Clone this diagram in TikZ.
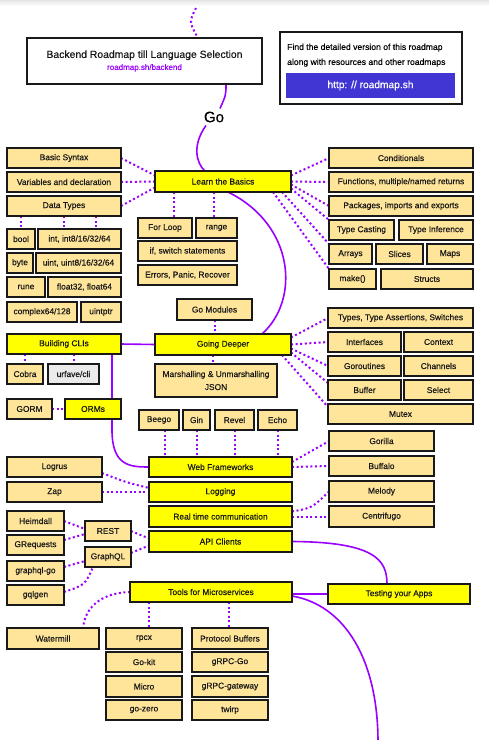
\documentclass[tikz,border=0pt]{standalone}
\usepackage{fontspec}
\setmainfont{Liberation Sans}[FakeBold=0.4]
\usetikzlibrary{backgrounds,shadows,calc}
\definecolor{tanc}{HTML}{FFE599}
\definecolor{yelc}{HTML}{FFFF00}
\definecolor{vio}{HTML}{9900FF}
\definecolor{btnc}{HTML}{4136D4}
\definecolor{urf}{HTML}{EBEBEB}
\newcommand{\bx}[7]{%
  \pgfmathsetmacro{\bxX}{(#3+#5)/2}%
  \pgfmathsetmacro{\bxY}{(#4+#6)/2}%
  \pgfmathsetmacro{\bxW}{#5-#3}%
  \pgfmathsetmacro{\bxH}{#6-#4}%
  \node[#1, minimum width=\bxW pt, minimum height=\bxH pt] (#2) at (\bxX,\bxY) {#7};}
\tikzset{
  box/.style={draw=black!90, line width=1.1pt, inner sep=0pt, outer sep=0pt,
    font=\fontsize{8.4}{10}\selectfont, text=black!90,
    drop shadow={shadow xshift=0.8pt, shadow yshift=-0.8pt, opacity=0.3, fill=black}},
  tanbox/.style={box, fill=tanc},
  yelbox/.style={box, fill=yelc},
  graybox/.style={box, fill=urf},
  whitebox/.style={box, fill=white},
  dotc/.style={draw=vio, line width=2pt, dash pattern=on 2pt off 2.6pt},
  sol/.style={draw=vio, line width=1.6pt},
}
\begin{document}
\begin{tikzpicture}[x=1pt,y=-1pt]
\useasboundingbox (0,0) rectangle (489,740);

% header
\bx{whitebox, align=center}{title}{27}{38}{262}{84}{{\fontsize{10.4}{12}\selectfont Backend Roadmap till Language Selection}\\[2pt]{\color{vio}\fontsize{8}{9}\selectfont roadmap.sh/backend}}
\bx{whitebox}{rbox}{280}{32}{462}{104}{}
\node[font=\fontsize{8.6}{15}\selectfont, align=left, anchor=north west, inner sep=0pt] (rtxt) at (287,43.5) {Find the detailed version of this roadmap\\along with resources and other roadmaps};
\bx{box, fill=btnc, draw=btnc, text=white, drop shadow={opacity=0}, font=\fontsize{10.2}{12}\selectfont}{btn}{287}{74}{454}{97}{http: // roadmap.sh}
\node[font=\fontsize{15}{17}\selectfont, inner sep=3pt] (go) at (214,117) {Go};

% learn the basics
\bx{yelbox}{ltb}{155}{171}{291}{192}{Learn the Basics}
\bx{tanbox}{bsyn}{7}{148}{121}{168}{Basic Syntax}
\bx{tanbox}{vars}{7}{172}{121}{192}{Variables and declaration}
\bx{tanbox}{dtypes}{7}{196}{121}{216}{Data Types}
\bx{tanbox}{bool}{7}{229}{35}{249}{bool}
\bx{tanbox}{ints}{38}{229}{121}{249}{int, int8/16/32/64}
\bx{tanbox}{byte}{7}{253}{33}{273}{byte}
\bx{tanbox}{uints}{36}{253}{121}{273}{uint, uint8/16/32/64}
\bx{tanbox}{rune}{7}{277}{45}{297}{rune}
\bx{tanbox}{floats}{48}{277}{121}{297}{float32, float64}
\bx{tanbox}{cplx}{7}{302}{77}{322}{complex64/128}
\bx{tanbox}{uptr}{81}{302}{121}{322}{uintptr}
\bx{tanbox}{forloop}{138}{218}{192}{238}{For Loop}
\bx{tanbox}{range}{196}{218}{237}{238}{range}
\bx{tanbox}{ifsw}{138}{241}{237}{261}{if, switch statements}
\bx{tanbox}{errs}{138}{265}{237}{285}{Errors, Panic, Recover}
\bx{tanbox}{cond}{329}{148}{473}{168}{Conditionals}
\bx{tanbox}{funcs}{329}{172}{473}{192}{Functions, multiple/named returns}
\bx{tanbox}{pkgs}{329}{196}{473}{216}{Packages, imports and exports}
\bx{tanbox}{tcast}{329}{220}{394}{240}{Type Casting}
\bx{tanbox}{tinf}{399}{220}{473}{240}{Type Inference}
\bx{tanbox}{arrays}{329}{244}{372}{264}{Arrays}
\bx{tanbox}{slices}{376}{244}{423}{264}{Slices}
\bx{tanbox}{maps}{427}{244}{473}{264}{Maps}
\bx{tanbox}{make}{329}{269}{376}{289}{make()}
\bx{tanbox}{structs}{381}{269}{473}{289}{Structs}

% going deeper
\bx{tanbox}{gomod}{177}{299}{252}{320}{Go Modules}
\bx{yelbox}{gd}{155}{334}{291}{355}{Going Deeper}
\bx{tanbox, align=center, font=\fontsize{8.4}{13}\selectfont}{marsh}{155}{364}{277}{397}{Marshalling \& Unmarshalling\\JSON}
\bx{tanbox}{tass}{328}{308}{473}{328}{Types, Type Assertions, Switches}
\bx{tanbox}{ifaces}{328}{332}{401}{352}{Interfaces}
\bx{tanbox}{ctx}{404}{332}{473}{352}{Context}
\bx{tanbox}{gor}{328}{356}{401}{376}{Goroutines}
\bx{tanbox}{chans}{404}{356}{473}{376}{Channels}
\bx{tanbox}{buf}{328}{380}{401}{400}{Buffer}
\bx{tanbox}{sel}{404}{380}{473}{400}{Select}
\bx{tanbox}{mutex}{328}{404}{473}{424}{Mutex}

% CLIs / ORMs
\bx{yelbox}{bcli}{7}{334}{121}{354}{Building CLIs}
\bx{tanbox}{cobra}{7}{364}{43}{384}{Cobra}
\bx{graybox}{urfave}{48}{364}{99}{384}{urfave/cli}
\bx{tanbox}{gorm}{7}{399}{52}{419}{GORM}
\bx{yelbox}{orms}{65}{399}{121}{419}{ORMs}

% web frameworks
\bx{tanbox}{beego}{139}{410}{179}{430}{Beego}
\bx{tanbox}{gin}{183}{410}{210}{430}{Gin}
\bx{tanbox}{revel}{215}{410}{254}{430}{Revel}
\bx{tanbox}{echo}{258}{410}{297}{430}{Echo}
\bx{yelbox}{wf}{149}{457}{292}{477}{Web Frameworks}
\bx{tanbox}{gorilla}{329}{431}{434}{451}{Gorilla}
\bx{tanbox}{buffalo}{329}{456}{434}{476}{Buffalo}

% logging, realtime, api
\bx{yelbox}{logging}{149}{482}{292}{502}{Logging}
\bx{yelbox}{rtc}{149}{506}{292}{527}{Real time communication}
\bx{yelbox}{api}{149}{531}{292}{552}{API Clients}
\bx{tanbox}{melody}{329}{481}{434}{502}{Melody}
\bx{tanbox}{centri}{329}{506}{434}{527}{Centrifugo}
\bx{tanbox}{logrus}{7}{457}{102}{477}{Logrus}
\bx{tanbox}{zap}{7}{482}{102}{502}{Zap}
\bx{tanbox}{heim}{7}{511}{64}{531}{Heimdall}
\bx{tanbox}{greq}{7}{535}{64}{555}{GRequests}
\bx{tanbox}{gqlgo}{7}{561}{64}{581}{graphql-go}
\bx{tanbox}{gqlgen}{7}{585}{64}{605}{gqlgen}
\bx{tanbox}{rest}{85}{521}{131}{541}{REST}
\bx{tanbox}{gql}{85}{547}{131}{567}{GraphQL}

% microservices
\bx{yelbox}{tools}{130}{582}{292}{602}{Tools for Microservices}
\bx{yelbox}{test}{328}{584}{470}{604}{Testing your Apps}
\bx{tanbox}{water}{7}{628}{99}{649}{Watermill}
\bx{tanbox}{rpcx}{106}{628}{182}{649}{rpcx}
\bx{tanbox}{gokit}{106}{652}{182}{672}{Go-kit}
\bx{tanbox}{micro}{106}{676}{182}{697}{Micro}
\bx{tanbox}{gozero}{106}{700}{182}{720}{go-zero}
\bx{tanbox}{protobuf}{192}{628}{268}{649}{Protocol Buffers}
\bx{tanbox}{grpcgo}{192}{652}{268}{672}{gRPC-Go}
\bx{tanbox}{grpcgw}{192}{676}{268}{697}{gRPC-gateway}
\bx{tanbox}{twirp}{192}{700}{268}{720}{twirp}

\coordinate (topstart) at (196,8);
\coordinate (bottomend) at (378,742);

\begin{pgfonlayer}{background}
\fill[white] (0,0) rectangle (489,740);
\shade[top color=black!10, bottom color=white] (0,0) rectangle (489,6);
% solid spine
\draw[dotc] (topstart) .. controls (189,22) .. (title.north -| 198,0);
\draw[sol] (title.south -| 226,0) .. controls (226,95) .. ([xshift=6pt]go.north);
\draw[sol] ([xshift=-8pt]go.south) .. controls (192,145) and (196,163) .. (ltb.north -| 205,0);
\draw[sol] (ltb.south -| 228,0) .. controls (295,225) and (300,300) .. (gd.north -| 262,0);
\draw[sol] (bcli.east) -- (gd.west);
\draw[sol] (bcli.south -| 112,0) -- (112,430) .. controls (112,466) and (130,467) .. (wf.west);
\draw[sol] (api.east) .. controls (375,542) and (387,560) .. (test.north -| 387,0);
\draw[sol] (tools.east |- test.west) -- (test.west);
\draw[sol] ([yshift=-4pt]tools.east) .. controls (345,605) and (378,660) .. (bottomend);

% learn the basics
\draw[dotc] (bsyn.east) -- ([yshift=6pt]ltb.west);
\draw[dotc] (vars.east) -- (ltb.west);
\draw[dotc] (dtypes.east) -- ([yshift=-6pt]ltb.west);
\draw[dotc] (dtypes.south -| bool.north) -- (bool.north);
\draw[dotc] (dtypes.south -| 64,0) -- (ints.north -| 64,0);
\draw[dotc] (dtypes.south -| 96,0) -- (ints.north -| 96,0);
\draw[dotc] (ltb.south -| 174,0) -- (forloop.north -| 174,0);
\draw[dotc] (ltb.south -| 214,0) -- (range.north -| 214,0);
\draw[dotc] ([yshift=6pt]ltb.east) -- (cond.west);
\draw[dotc] (ltb.east) -- (funcs.west);
\draw[dotc] ([yshift=-3pt]ltb.east) -- (pkgs.west);
\draw[dotc] ([yshift=-7pt]ltb.east) -- (tcast.north west);
\draw[dotc] ([xshift=-9pt]ltb.south east) -- (arrays.north west);
\draw[dotc] ([xshift=-18pt]ltb.south east) -- (make.north west);

% going deeper
\draw[dotc] (gomod.south) -- (gomod.south |- gd.north);
\draw[dotc] (gd.south -| 213,0) -- (marsh.north -| 213,0);
\draw[dotc] ([yshift=7pt]gd.east) -- (tass.west);
\draw[dotc] (gd.east) -- (ifaces.west);
\draw[dotc] ([yshift=-4pt]gd.east) -- (gor.west);
\draw[dotc] ([yshift=-8pt]gd.east) -- ($(buf.north west)+(0,3)$);
\draw[dotc] ([xshift=-9pt]gd.south east) -- ($(mutex.north west)+(0,3)$);

% CLIs / ORMs
\draw[dotc] (bcli.south -| cobra.north) -- (cobra.north);
\draw[dotc] (bcli.south -| urfave.north) -- (urfave.north);
\draw[dotc] (gorm.east) -- (orms.west);

% web frameworks
\draw[dotc] (beego.south -| 165,0) -- (wf.north -| 165,0);
\draw[dotc] (gin.south) -- (gin.south |- wf.north);
\draw[dotc] (revel.south) -- (revel.south |- wf.north);
\draw[dotc] (echo.south) -- (echo.south |- wf.north);
\draw[dotc] ([yshift=5pt]wf.east) -- (gorilla.west);
\draw[dotc] (wf.east) -- (buffalo.west);

% logging / rtc / api
\draw[dotc] ($(logrus.south east)+(0,-4)$) .. controls (125,482) .. ([yshift=4pt]logging.west);
\draw[dotc] (zap.east) -- (logging.west);
\draw[dotc] ([yshift=5pt]rtc.east) .. controls (312,508) .. (melody.west);
\draw[dotc] (rtc.east) -- (centri.west);
\draw[dotc] (heim.east) -- ([yshift=2pt]rest.west);
\draw[dotc] ([yshift=5pt]greq.east) -- ([yshift=-3pt]rest.west);
\draw[dotc] (rest.east) -- ([yshift=3pt]api.west);
\draw[dotc] ([yshift=4pt]gql.east) -- ([yshift=-4pt]api.west);
\draw[dotc] ([yshift=4pt]gqlgo.east) -- ([yshift=-4pt]gql.west);
\draw[dotc] ([yshift=3pt]gqlgen.east) .. controls (85,585) .. ($(gql.south)+(-15,0)$);

% microservices
\draw[dotc] (tools.west) .. controls (100,593) and (85,608) .. ($(water.north)+(30,0)$);
\draw[dotc] (tools.south -| 149,0) -- (rpcx.north -| 149,0);
\draw[dotc] (tools.south -| 229,0) -- (protobuf.north -| 229,0);
\end{pgfonlayer}
\end{tikzpicture}
\end{document}
